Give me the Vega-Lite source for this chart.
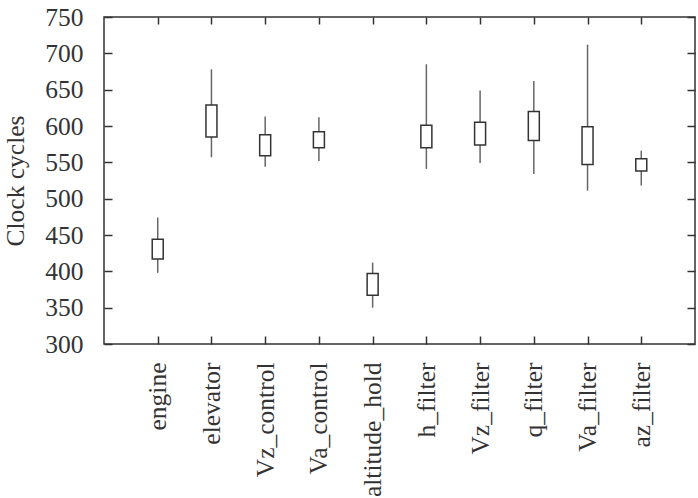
{
  "$schema": "https://vega.github.io/schema/vega-lite/v6.json",
  "autosize": "none",
  "padding": {"left": 104, "top": 17, "right": 3, "bottom": 154},
  "width": 591,
  "height": 327,
  "config": {
    "font": "Liberation Serif",
    "view": {"stroke": "#333333", "strokeWidth": 1.5},
    "axis": {
      "domain": false,
      "grid": false,
      "labelFont": "Liberation Serif",
      "titleFont": "Liberation Serif",
      "labelFontSize": 25.5,
      "titleFontSize": 25.5,
      "labelColor": "#333333",
      "titleColor": "#333333",
      "titleFontWeight": "normal",
      "tickColor": "#333333",
      "tickWidth": 1.5
    }
  },
  "data": {
    "values": [
      {"task": "engine", "min": 398, "q1": 417, "q3": 444, "max": 474},
      {"task": "elevator", "min": 557, "q1": 585, "q3": 629, "max": 678},
      {"task": "Vz_control", "min": 544, "q1": 559, "q3": 588, "max": 613},
      {"task": "Va_control", "min": 552, "q1": 570, "q3": 592, "max": 612},
      {"task": "altitude_hold", "min": 350, "q1": 367, "q3": 397, "max": 412},
      {"task": "h_filter", "min": 541, "q1": 570, "q3": 601, "max": 685},
      {"task": "Vz_filter", "min": 549, "q1": 574, "q3": 605, "max": 649},
      {"task": "q_filter", "min": 534, "q1": 580, "q3": 620, "max": 662},
      {"task": "Va_filter", "min": 511, "q1": 547, "q3": 599, "max": 712},
      {"task": "az_filter", "min": 518, "q1": 538, "q3": 555, "max": 566}
    ]
  },
  "resolve": {"axis": {"x": "independent", "y": "independent"}},
  "layer": [
    {
      "mark": {"type": "rule", "stroke": "#666666", "strokeWidth": 1.5},
      "encoding": {
        "x": {
          "field": "task", "type": "nominal", "sort": null,
          "scale": {"type": "point", "padding": 1},
          "axis": {"orient": "bottom", "title": null, "labelAngle": -90, "tickSize": -8, "labelPadding": 26}
        },
        "y": {
          "field": "min", "type": "quantitative",
          "scale": {"domain": [300, 750], "nice": false, "zero": false},
          "axis": {"orient": "left", "title": "Clock cycles", "values": [300,350,400,450,500,550,600,650,700,750], "tickSize": -8, "labelPadding": 29, "titlePadding": 16}
        },
        "y2": {"field": "max"}
      }
    },
    {
      "mark": {"type": "bar", "fill": "white", "stroke": "#333333", "strokeWidth": 1.5, "size": 11},
      "encoding": {
        "x": {
          "field": "task", "type": "nominal", "sort": null,
          "axis": {"orient": "top", "title": null, "labels": false, "tickSize": -7}
        },
        "y": {
          "field": "q1", "type": "quantitative",
          "axis": {"orient": "right", "title": null, "labels": false, "values": [300,350,400,450,500,550,600,650,700,750], "tickSize": -8}
        },
        "y2": {"field": "q3"}
      }
    }
  ]
}
